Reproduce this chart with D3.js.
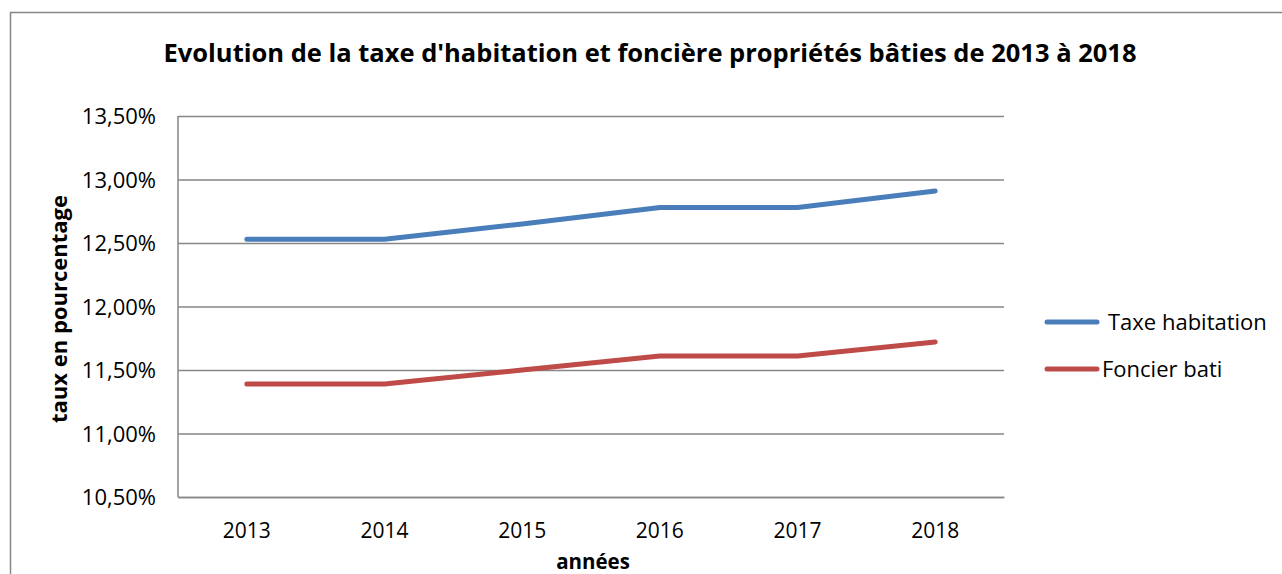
<!DOCTYPE html>
<html><head><meta charset="utf-8">
<script src="https://cdn.jsdelivr.net/npm/d3@7"></script>
<style>body{margin:0;background:#fff;overflow:hidden}svg{display:block}text{font-family:"Open Sans",sans-serif;fill:#000}</style>
</head><body>
<script>
const categories = ["2013","2014","2015","2016","2017","2018"];
const taxeHabitation = [12.53,12.53,12.65,12.78,12.78,12.91];
const foncierBati = [11.39,11.39,11.50,11.61,11.61,11.72];
const yTicks = [10.5,11,11.5,12,12.5,13,13.5];
const seriesNames = ["Taxe habitation","Foncier bati"];
const colors = ["#4a7ebb","#be4b48"];

const W=1282,H=574;
const svg=d3.select("body").append("svg").attr("width",W).attr("height",H);
svg.append("rect").attr("x",10.5).attr("y",12.5).attr("width",1300).attr("height",600)
  .attr("fill","#fff").attr("stroke","#868686").attr("stroke-width",1.5);

const L=178,R=1004,T=116,B=497;
const x=d3.scaleBand().domain(categories).range([L,R]);
const y=d3.scaleLinear().domain([10.5,13.5]).range([B,T]);
const fmt=v=>d3.format(".2f")(v).replace(".",",")+"%";

const yAxis=svg.append("g").attr("transform",`translate(${L},0)`)
  .call(d3.axisLeft(y).tickValues(yTicks).tickSize(-(R-L)).tickFormat(fmt));
yAxis.select(".domain").remove();
yAxis.selectAll("line").attr("stroke","#868686").attr("stroke-width",1.5);
yAxis.selectAll("text").attr("x",-22).attr("dy","0.36em").style("font-size","22px").style("font-family","Open Sans");

svg.append("line").attr("x1",L).attr("x2",L).attr("y1",T).attr("y2",B).attr("stroke","#868686").attr("stroke-width",1.5);

const xAxis=svg.append("g").attr("transform",`translate(0,${B})`).call(d3.axisBottom(x).tickSize(0));
xAxis.select(".domain").attr("stroke","#868686").attr("stroke-width",1.5);
xAxis.selectAll("text").attr("dy","0").attr("y",41).style("font-size","21px").style("font-family","Open Sans");

const line=d3.line().x((d,i)=>x(categories[i])+x.bandwidth()/2).y(d=>y(d));
[taxeHabitation,foncierBati].forEach((s,k)=>{
  svg.append("path").attr("d",line(s)).attr("fill","none").attr("stroke",colors[k])
    .attr("stroke-width",5).attr("stroke-linecap","round").attr("stroke-linejoin","round");
});

svg.append("text").attr("x",650).attr("y",62).attr("text-anchor","middle")
  .style("font-size","25.5px").style("font-weight","bold").text("Evolution de la taxe d'habitation et foncière propriétés bâties de 2013 à 2018");
svg.append("text").attr("transform","translate(67,309) rotate(-90)").attr("text-anchor","middle")
  .style("font-size","22px").style("font-weight","bold").text("taux en pourcentage");
svg.append("text").attr("x",593).attr("y",569).attr("text-anchor","middle")
  .style("font-size","20.5px").style("font-weight","bold").text("années");

const leg=[{y:322,tx:1108},{y:369,tx:1102}];
seriesNames.forEach((n,k)=>{
  svg.append("line").attr("x1",1047).attr("x2",1097).attr("y1",leg[k].y).attr("y2",leg[k].y)
    .attr("stroke",colors[k]).attr("stroke-width",5).attr("stroke-linecap","round");
  svg.append("text").attr("x",leg[k].tx).attr("y",leg[k].y+8).style("font-size","22px").text(n);
});
</script>
</body></html>
